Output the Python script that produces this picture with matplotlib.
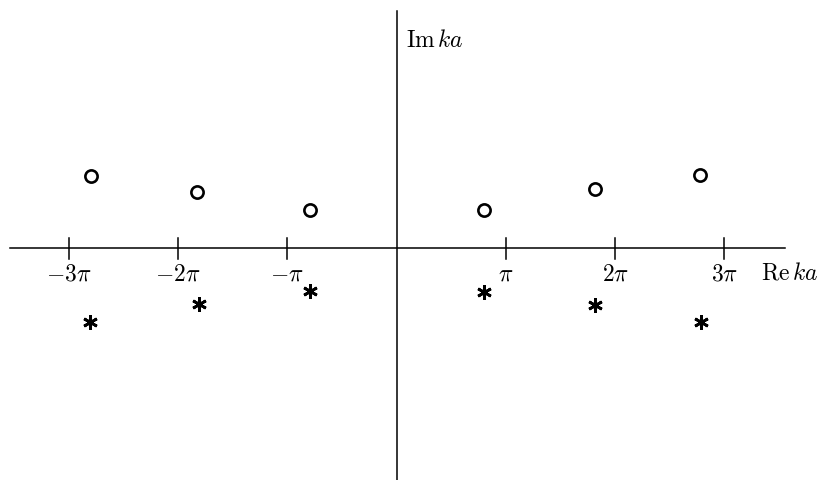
import numpy as np
import matplotlib
matplotlib.use("Agg")
import matplotlib.pyplot as plt

plt.rcParams["mathtext.fontset"] = "cm"

# Zeros (open circles) and poles (asterisks) in the complex ka plane, in units of pi
zero_re = [-2.792, -1.828, -0.791, 0.798, 1.819, 2.780]
zero_im = [0.659, 0.512, 0.350, 0.350, 0.543, 0.671]
pole_re = [-2.804, -1.807, -0.789, 0.798, 1.819, 2.786]
pole_im = [-0.672, -0.510, -0.393, -0.397, -0.516, -0.672]

tick_vals = [-3, -2, -1, 1, 2, 3]
tick_labels = [r"$-3\pi$", r"$-2\pi$", r"$-\pi$", r"$\pi$", r"$2\pi$", r"$3\pi$"]

pi = np.pi
fig = plt.figure(figsize=(8.21, 4.81), dpi=100)
ax = fig.add_axes([0, 0, 1, 1])
ax.set_xlim(-3.628 * pi, 3.884 * pi)
ax.set_ylim(-2.120 * pi, 2.281 * pi)
ax.axis("off")

# coordinate axes
ax.plot([-3.537 * pi, 3.555 * pi], [0, 0], color="black", lw=1.1)
ax.plot([0, 0], [-2.120 * pi, 2.171 * pi], color="black", lw=1.1)

# ticks and tick labels
for v, lab in zip(tick_vals, tick_labels):
    ax.plot([v * pi, v * pi], [-0.097 * pi, 0.097 * pi], color="black", lw=1.1)
    ax.text(v * pi, -0.226 * pi, lab, ha="center", va="center", fontsize=17)

ax.text(3.596 * pi, -0.210 * pi, r"$\mathrm{Re}\,ka$", ha="center", va="center", fontsize=17)
ax.text(0.085 * pi, 1.915 * pi, r"$\mathrm{Im}\,ka$", ha="left", va="center", fontsize=17)

ax.plot(np.array(zero_re) * pi, np.array(zero_im) * pi, linestyle="none",
        marker="o", markersize=8.8, markerfacecolor="white",
        markeredgecolor="black", markeredgewidth=1.9)
ax.plot(np.array(pole_re) * pi, np.array(pole_im) * pi, linestyle="none",
        marker=(6, 2, 0), markersize=10.5, markeredgecolor="black",
        markeredgewidth=2.0)

fig.savefig("out.png", dpi=100)
